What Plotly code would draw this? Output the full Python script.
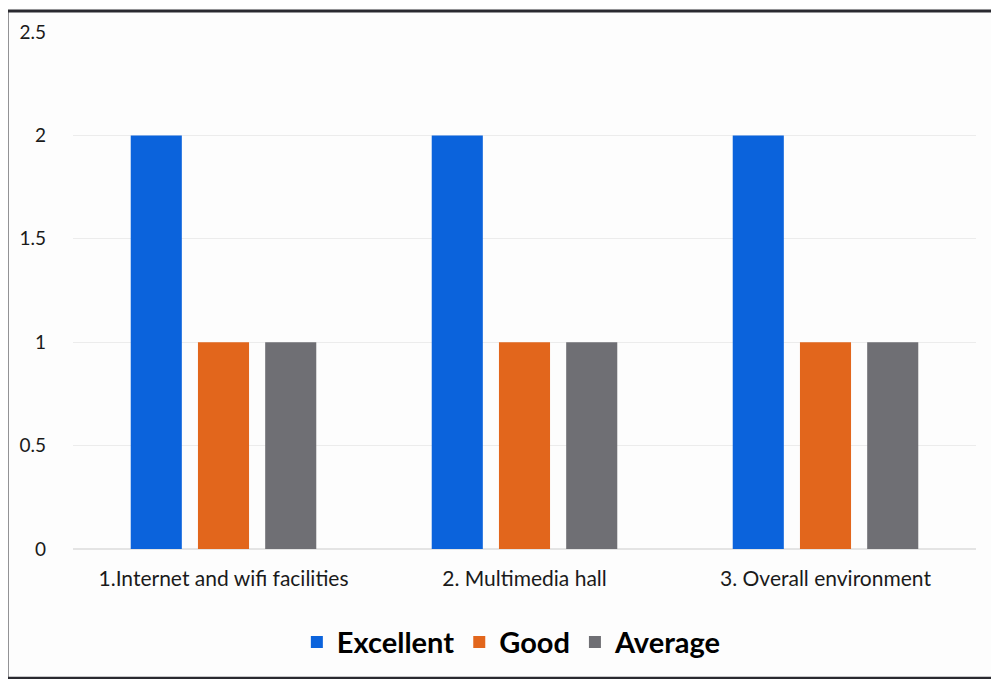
import plotly.graph_objects as go

categories = ["1.Internet and wifi facilities", "2. Multimedia hall", "3. Overall environment"]
excellent = [2, 2, 2]
good = [1, 1, 1]
average = [1, 1, 1]
series_names = ["Excellent", "Good", "Average"]
colors = ["#0b63dc", "#e2661c", "#6f6f74"]
y_ticks = [0, 0.5, 1, 1.5, 2, 2.5]
y_ticktext = ["0", "0.5", "1", "1.5", "2", "2.5"]

fig = go.Figure()
for name, vals, c in zip(series_names, [excellent, good, average], colors):
    fig.add_trace(go.Bar(name=name, x=categories, y=vals, marker=dict(color=c, line=dict(width=0))))

# page body has an 8px margin; figure is sized to fill the rest of the window
W, H = 991, 671
ml, mr, mt, mb = 65, 23, 24, 127

fig.update_layout(
    width=W, height=H,
    margin=dict(l=ml, r=mr, t=mt, b=mb),
    paper_bgcolor="#fdfdfd", plot_bgcolor="#fdfdfd",
    barmode="group", bargap=0.33, bargroupgap=0.24,
    font=dict(family="Lato, 'Open Sans', sans-serif", color="#1a1a1a"),
    showlegend=True,
    legend=dict(orientation="h", x=0.486, xanchor="center", y=-0.18, yanchor="middle",
                font=dict(size=29, color="#000000", family="Lato, sans-serif", weight="bold"),
                itemwidth=30, traceorder="normal", bgcolor="rgba(0,0,0,0)"),
    xaxis=dict(showgrid=False, showline=False, zeroline=False, ticks="",
               tickfont=dict(size=21, color="#1a1a1a"), ticklabelstandoff=15),
    yaxis=dict(range=[0, 2.5], tickvals=y_ticks, ticktext=y_ticktext,
               showgrid=True, gridcolor="#ececec", gridwidth=1,
               zeroline=True, zerolinecolor="#e4e4e4", showline=False, ticks="",
               tickfont=dict(size=19, color="#1a1a1a"), ticklabelstandoff=26),
)

# photographed frame around the chart
fig.add_shape(type="rect", xref="paper", yref="paper",
              x0=(-1 - ml) / (W - ml - mr), x1=(1010 - ml) / (W - ml - mr),
              y0=(H - mb - 674) / (H - mt - mb), y1=(H - mb - 3) / (H - mt - mb),
              line=dict(color="#2a2a30", width=3), fillcolor="rgba(0,0,0,0)", layer="below")

fig.write_html("out.html")
